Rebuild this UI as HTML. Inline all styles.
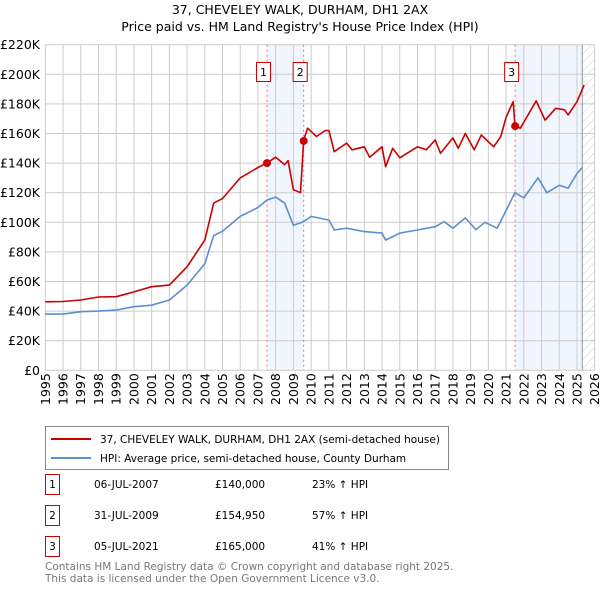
<!DOCTYPE html>
<html><head><meta charset="utf-8"><style>
body{margin:0;background:#fff;font-family:"DejaVu Sans","Liberation Sans",sans-serif;}
svg{display:block}
</style></head><body>
<svg width="600" height="590" viewBox="0 0 600 590" xmlns="http://www.w3.org/2000/svg">
<defs><pattern id="hatch" width="6" height="6" patternUnits="userSpaceOnUse" patternTransform="rotate(45)"><line x1="0" y1="0" x2="0" y2="6" stroke="#ccc" stroke-width="1"/></pattern></defs>
<text x="300" y="14" text-anchor="middle" font-size="12.5" fill="#000">37, CHEVELEY WALK, DURHAM, DH1 2AX</text>
<text x="300" y="31" text-anchor="middle" font-size="12.5" fill="#000">Price paid vs. HM Land Registry's House Price Index (HPI)</text>
<g id="plot"></g>
<g>
<rect x="45.5" y="426.5" width="403" height="43" fill="#fff" stroke="#888"/>
<line x1="51" y1="439" x2="91" y2="439" stroke="#cc0000" stroke-width="2"/>
<text x="100" y="443" font-size="10.5">37, CHEVELEY WALK, DURHAM, DH1 2AX (semi-detached house)</text>
<line x1="51" y1="458" x2="91" y2="458" stroke="#5b8fd0" stroke-width="2"/>
<text x="100" y="462" font-size="10.5">HPI: Average price, semi-detached house, County Durham</text>
</g>
<g font-size="10.5">
<rect x="45.5" y="474.5" width="14" height="20" fill="#fff" stroke="#cc0000"/><text x="52.5" y="488" text-anchor="middle">1</text>
<text x="94" y="488">06-JUL-2007</text><text x="215" y="488">£140,000</text><text x="312" y="488">23% ↑ HPI</text>
<rect x="45.5" y="505.5" width="14" height="20" fill="#fff" stroke="#cc0000"/><text x="52.5" y="519" text-anchor="middle">2</text>
<text x="94" y="519">31-JUL-2009</text><text x="215" y="519">£154,950</text><text x="312" y="519">57% ↑ HPI</text>
<rect x="45.5" y="536.5" width="14" height="20" fill="#fff" stroke="#cc0000"/><text x="52.5" y="550" text-anchor="middle">3</text>
<text x="94" y="550">05-JUL-2021</text><text x="215" y="550">£165,000</text><text x="312" y="550">41% ↑ HPI</text>
</g>
<text x="45" y="570" font-size="10.5" fill="#777">Contains HM Land Registry data © Crown copyright and database right 2025.</text>
<text x="45" y="582" font-size="10.5" fill="#777">This data is licensed under the Open Government Licence v3.0.</text>
</svg>
<script>
const years=[1995,1996,1997,1998,1999,2000,2001,2002,2003,2004,2005,2006,2007,2008,2009,2010,2011,2012,2013,2014,2015,2016,2017,2018,2019,2020,2021,2022,2023,2024,2025,2026];
const yTicks=[0,20,40,60,80,100,120,140,160,180,200,220];
const hpiT=[1995,1996,1997,1998,1999,2000,2001,2002,2003,2004,2004.5,2005,2006,2007,2007.5,2008,2008.5,2009,2009.5,2010,2011,2011.3,2012,2013,2014,2014.2,2015,2016,2017,2017.5,2018,2018.7,2019.3,2019.8,2020.5,2021,2021.5,2022,2022.8,2023.3,2024,2024.5,2025,2025.3];
const hpiV=[38,38,39.6,40,40.7,43,44,47.5,57.6,72,91,94,104,110,115,117,113,98,100,104,101.5,94.8,96,93.7,92.7,88,92.7,94.8,97,100.4,96,103,95,100,96,108,120,116.4,130,120,125,123,133,137];
const priceT=[1995,1996,1997,1998,1999,2000,2001,2002,2003,2004,2004.5,2005,2006,2007,2007.5,2008,2008.5,2008.7,2009,2009.4,2009.58,2009.8,2010.3,2010.8,2011,2011.3,2012,2012.3,2013,2013.3,2014,2014.2,2014.6,2015,2016,2016.5,2017,2017.3,2018,2018.3,2018.7,2019.2,2019.6,2020.3,2020.7,2021,2021.4,2021.5,2021.8,2022.7,2023.2,2023.8,2024.3,2024.5,2025,2025.4];
const priceV=[46.3,46.5,47.5,49.5,49.7,53,56.5,57.6,70,88,113,116,130,137,140,144,139,141.6,122,120,155.6,163.6,158,162,162,147.7,153.5,149,151,144,151,137.6,150,143.6,151,149,155.6,146.6,157,150,160,149,159,151,158,171,181.5,165.7,163.5,182,169,177,176,172.6,181.5,192.7];
const saleT=[2007.51,2009.58,2021.51];
const saleV=[140,154.95,165];
const saleLabels=["1","2","3"];
const X0=45.3,X1=594.7,Y0=370.3,Y1=44.7;
const x=t=>X0+(t-1995)/(2026-1995)*(X1-X0);
const y=v=>Y0-v/220*(Y0-Y1);
const NS="http://www.w3.org/2000/svg";
const g=document.getElementById('plot');
function mk(tag,attrs,parent){const e=document.createElementNS(NS,tag);for(const k in attrs)e.setAttribute(k,attrs[k]);(parent||g).appendChild(e);return e;}
let r=mk('rect',{x:x(saleT[0]),y:Y1,width:x(saleT[1])-x(saleT[0]),height:Y0-Y1,fill:'#eef3fc',opacity:0.8});


r=mk('rect',{x:x(saleT[2]),y:Y1,width:x(2025.3)-x(saleT[2]),height:Y0-Y1,fill:'#eef3fc',opacity:0.8});


r=mk('rect',{x:x(2025.3),y:Y1,width:X1-x(2025.3),height:Y0-Y1,fill:'url(#hatch)'});


years.forEach(t=>{const l=mk('line',{x1:x(t),x2:x(t),y1:Y1,y2:Y0,stroke:'#ccc','stroke-width':1});


const tx=mk('text',{x:0,y:0,'font-size':12.5,transform:`translate(${x(t)+4.5},405) rotate(-90)`});tx.textContent=t;

});
yTicks.forEach(v=>{const l=mk('line',{x1:X0,x2:X1,y1:y(v),y2:y(v),stroke:'#ccc','stroke-width':1});


const tx=mk('text',{x:40,y:y(v)+4.5,'font-size':12.5,'text-anchor':'end'});tx.textContent='£'+v+(v?'K':'');

});
const v=mk('line',{x1:x(2025.3),x2:x(2025.3),y1:Y1,y2:Y0,stroke:'#999','stroke-width':1});


saleT.forEach((t,i)=>{const l=mk('line',{x1:x(t),x2:x(t),y1:Y1,y2:Y0,stroke:'#f07070','stroke-width':1,'stroke-dasharray':'2,3'});


const b=mk('rect',{x:x(t)-10.5,y:62.5,width:14,height:19,fill:'#fff',stroke:'#cc0000'});


const tx=mk('text',{x:x(t)-3.5,y:76,'font-size':11,'text-anchor':'middle'});tx.textContent=saleLabels[i];

});
function line(T,V,color,name){const d=T.map((t,i)=>(i?'L':'M')+x(t).toFixed(1)+','+y(V[i]).toFixed(1)).join('');
const p=mk('path',{d,fill:'none',stroke:color,'stroke-width':1.6,'stroke-linejoin':'round'});

}
line(hpiT,hpiV,'#5b8fd0','hpi-line');
line(priceT,priceV,'#cc0000','price-line');
saleT.forEach((t,i)=>{const c=mk('circle',{cx:x(t),cy:y(saleV[i]),r:4,fill:'#cc0000'});

});
</script>
</body></html>
